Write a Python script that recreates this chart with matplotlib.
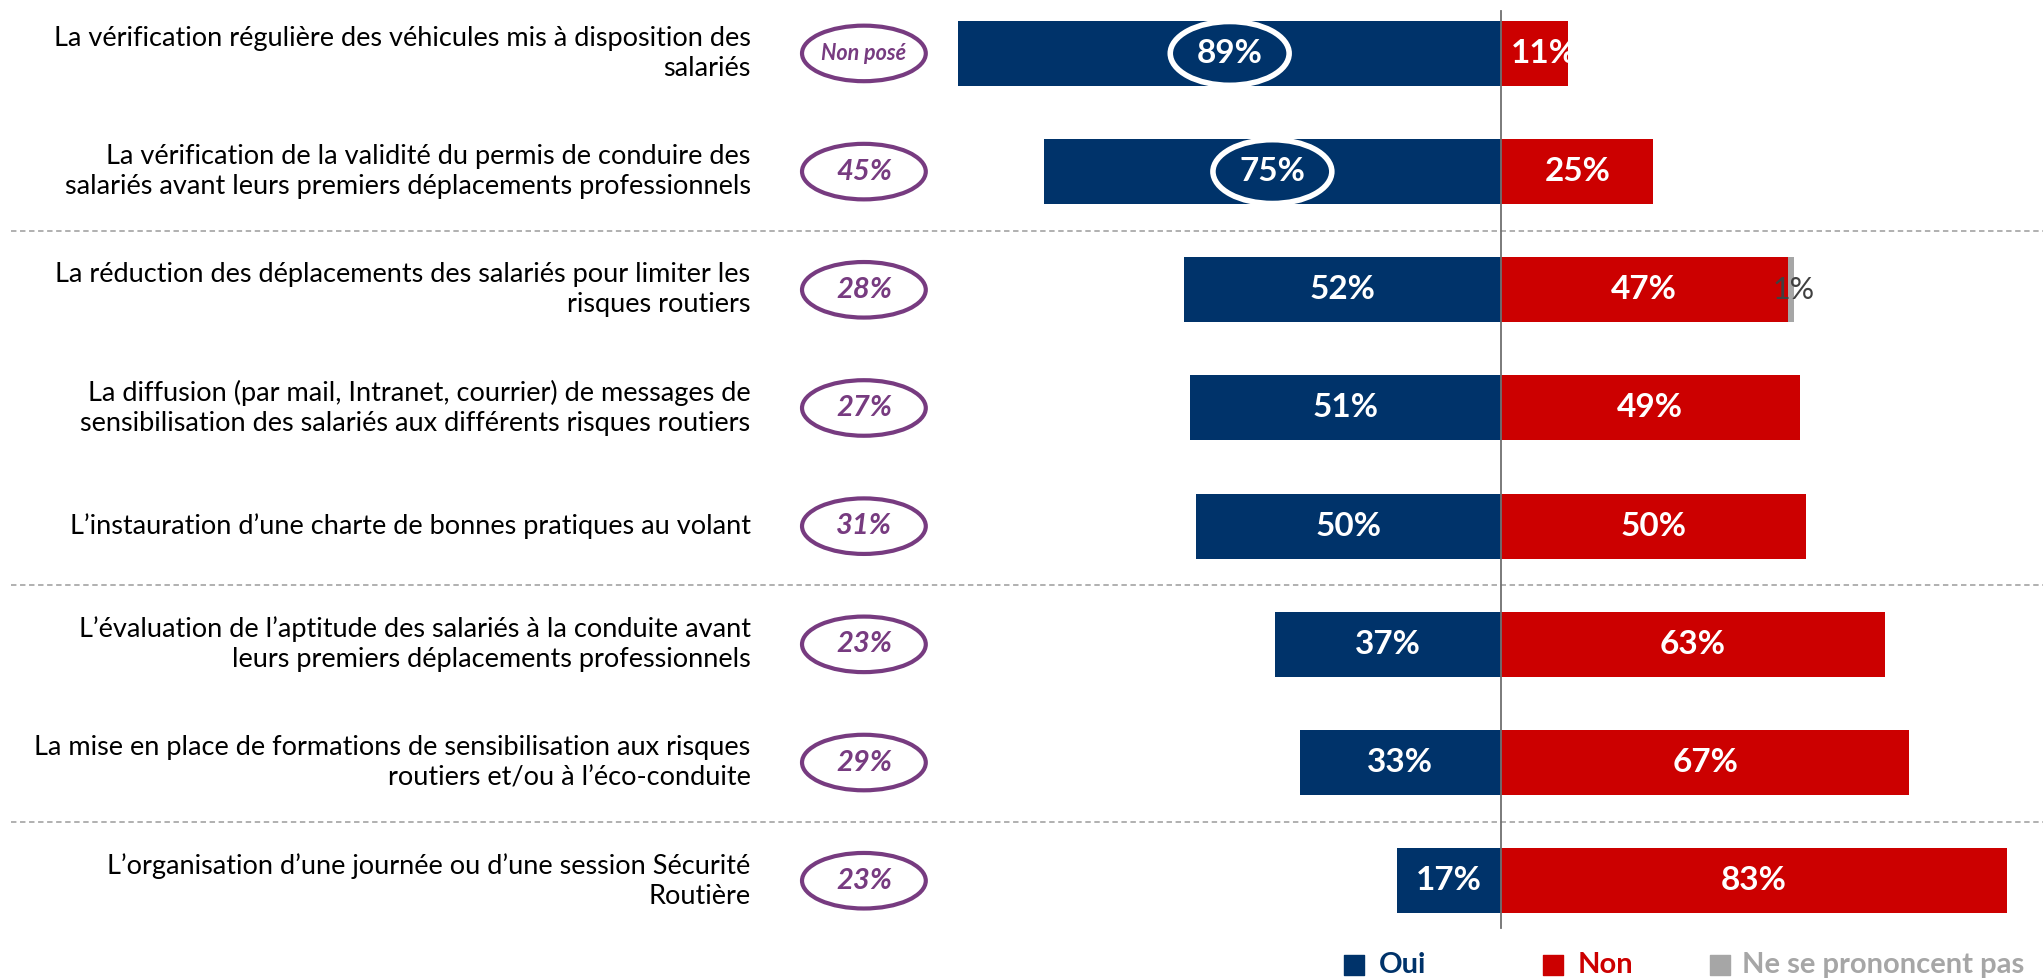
import numpy as np
import matplotlib
matplotlib.use("Agg")
from matplotlib import pyplot as plt
from matplotlib.patches import Ellipse

plt.rcParams['font.family'] = ['Lato', 'DejaVu Sans']

labels = [
    "La vérification régulière des véhicules mis à disposition des\nsalariés",
    "La vérification de la validité du permis de conduire des\nsalariés avant leurs premiers déplacements professionnels",
    "La réduction des déplacements des salariés pour limiter les\nrisques routiers",
    "La diffusion (par mail, Intranet, courrier) de messages de\nsensibilisation des salariés aux différents risques routiers",
    "L\u2019instauration d\u2019une charte de bonnes pratiques au volant",
    "L\u2019évaluation de l\u2019aptitude des salariés à la conduite avant\nleurs premiers déplacements professionnels",
    "La mise en place de formations de sensibilisation aux risques\nroutiers et/ou à l\u2019éco-conduite",
    "L\u2019organisation d\u2019une journée ou d\u2019une session Sécurité\nRoutière",
]
oui = [89, 75, 52, 51, 50, 37, 33, 17]
non = [11, 25, 47, 49, 50, 63, 67, 83]
nsp = [0, 0, 1, 0, 0, 0, 0, 0]
previous = ["Non posé", "45%", "28%", "27%", "31%", "23%", "29%", "23%"]
highlight = [True, True, False, False, False, False, False, False]
separators = [1.5, 4.5, 6.5]

navy = "#00336A"
red = "#CC0000"
grey = "#A6A6A6"
purple = "#773B80"

fig = plt.figure(figsize=(20.43, 9.8), dpi=100)
ax = fig.add_axes([0, 0, 1, 1])
ax.set_xlim(-246.2, 88.9)
ax.set_ylim(7.84, -0.452)
ax.axis("off")

y = np.arange(len(labels))
h = 0.55
ax.barh(y, [-v for v in oui], height=h, color=navy, zorder=2)
ax.barh(y, non, height=h, color=red, zorder=2)
ax.barh(y, nsp, left=non, height=h, color=grey, zorder=2)

for i in range(len(labels)):
    ax.text(-oui[i] / 2, y[i], f"{oui[i]}%", ha="center", va="center",
            color="white", fontsize=24, fontweight="bold", zorder=4)
    if highlight[i]:
        ax.add_patch(Ellipse((-oui[i] / 2, y[i]), 19.5, 0.54, fill=False,
                             ec="white", lw=4, zorder=3))
    nx = non[i] / 2 if non[i] > 15 else 7
    ax.text(nx, y[i], f"{non[i]}%", ha="center", va="center",
            color="white", fontsize=24, fontweight="bold", zorder=4)
    if nsp[i] > 0:
        ax.text(non[i] + nsp[i], y[i], f"{nsp[i]}%", ha="center", va="center",
                color="#404040", fontsize=22, zorder=4)
    ax.text(-123.1, y[i], labels[i], ha="right", va="center",
            fontsize=19.5, color="black", linespacing=1.25)
    ax.add_patch(Ellipse((-104.5, y[i]), 20.3, 0.47, fill=False,
                         ec=purple, lw=3, zorder=3))
    if previous[i] == "Non posé":
        ax.text(-104.5, y[i], previous[i], ha="center", va="center",
                color=purple, fontsize=15.5, fontweight="bold", style="italic")
    else:
        ax.text(-104.5, y[i], previous[i], ha="center", va="center",
                color=purple, fontsize=21, fontweight="bold", style="italic")

for s in separators:
    ax.plot([-244.4, 88.9], [s, s], ls=(0, (3, 2)), color="#AAAAAA", lw=1.3, zorder=1)

ax.plot([0, 0], [-0.36, 7.4], color="#707070", lw=1.3, zorder=5)

# legend
ly = 7.71
items = [("Oui", navy, -24.1, -20.1), ("Non", red, 8.5, 12.6), ("Ne se prononcent pas", grey, 36.0, 39.6)]
for name, col, lx, tx in items:
    ax.scatter([lx], [ly], marker="s", s=190, color=col, clip_on=False)
    ax.text(tx, ly, name, ha="left", va="center", color=col,
            fontsize=21, fontweight="bold")

fig.savefig("out.png", dpi=100)
